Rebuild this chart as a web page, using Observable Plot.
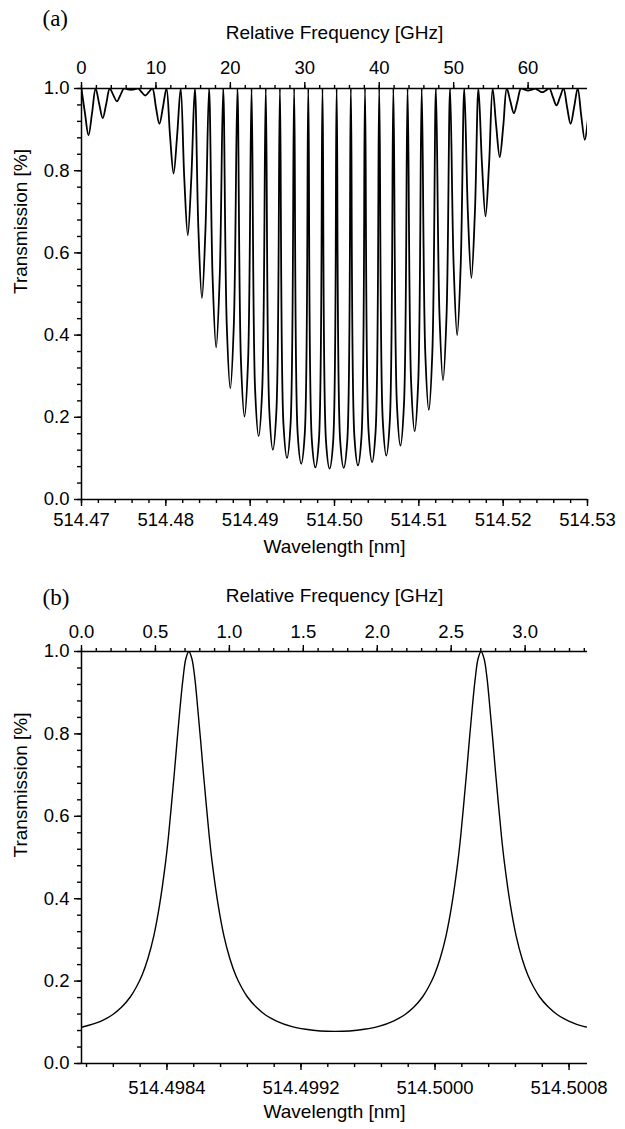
<!DOCTYPE html>
<html>
<head>
<meta charset="utf-8">
<script src="https://cdn.jsdelivr.net/npm/d3@7"></script>
<script src="https://cdn.jsdelivr.net/npm/@observablehq/plot@0.6"></script>
<style>
  html, body { margin: 0; padding: 0; background: #fff; }
  #chart { width: 625px; }
  #chart svg { display: block; }
</style>
</head>
<body>
<div id="chart"></div>
<script>
// Frequency detuning per nm of wavelength near 514.5 nm
const GHZ_PER_NM = 1133;

// ---------- Panel (a): wide scan, 514.47 – 514.53 nm ----------
const lambdaStartA = 514.47;
const lambdaEndA = 514.53;
// transmission dips (relative frequency, GHz) and their depth
const fringeDipGHz = [
  0.94, 2.85, 4.75, 6.66, 8.56, 10.47, 12.37, 14.28, 16.18, 18.09,
  19.99, 21.90, 23.80, 25.71, 27.61, 29.52, 31.42, 33.33, 35.23, 37.14,
  39.04, 40.95, 42.85, 44.76, 46.66, 48.57, 50.47, 52.38, 54.28, 56.19,
  58.09, 60.00, 61.90, 63.81, 65.71, 67.62
];
const fringeDipT = [
  0.886, 0.928, 0.969, 0.997, 0.983, 0.914, 0.793, 0.643, 0.490, 0.370,
  0.271, 0.202, 0.154, 0.121, 0.101, 0.087, 0.078, 0.075, 0.077, 0.083,
  0.091, 0.107, 0.131, 0.166, 0.218, 0.290, 0.400, 0.539, 0.689, 0.833,
  0.940, 0.995, 0.991, 0.959, 0.914, 0.875
];
// transmission a quarter period either side of each dip
const fringeShoulderT = [
  0.940, 0.963, 0.984, 0.998, 0.991, 0.955, 0.885, 0.783, 0.658, 0.540,
  0.426, 0.336, 0.267, 0.216, 0.183, 0.160, 0.145, 0.140, 0.143, 0.153,
  0.167, 0.193, 0.232, 0.285, 0.358, 0.450, 0.571, 0.700, 0.816, 0.909,
  0.969, 0.997, 0.995, 0.979, 0.955, 0.933
];
// offsets (GHz) of peak, shoulder, dip, shoulder within one fringe
const fringeOffsetsGHz = [-0.953, -0.476, 0, 0.476];
const fringeHalfPeriodGHz = 0.953;

// ---------- Panel (b): single free spectral range ----------
const lambdaStartB = 514.49789;
const lambdaEndB = 514.50091;
const airyGHz = [
  0.000, 0.133, 0.212, 0.272, 0.331, 0.370, 0.410, 0.449, 0.489, 0.528,
  0.568, 0.588, 0.607, 0.627, 0.647, 0.667, 0.687, 0.706, 0.726, 0.746,
  0.766, 0.785, 0.805, 0.825, 0.845, 0.864, 0.884, 0.924, 0.963, 1.003,
  1.042, 1.082, 1.121, 1.181, 1.240, 1.319, 1.418, 1.516, 1.615, 1.714,
  1.813, 1.912, 2.010, 2.109, 2.188, 2.248, 2.307, 2.346, 2.386, 2.425,
  2.465, 2.504, 2.544, 2.564, 2.583, 2.603, 2.623, 2.643, 2.663, 2.682,
  2.702, 2.722, 2.742, 2.761, 2.781, 2.801, 2.821, 2.840, 2.860, 2.900,
  2.939, 2.979, 3.018, 3.058, 3.097, 3.157, 3.216, 3.295, 3.394, 3.425
];
const airyT = [
  0.088, 0.103, 0.119, 0.137, 0.162, 0.185, 0.215, 0.255, 0.310, 0.385,
  0.487, 0.551, 0.623, 0.702, 0.786, 0.866, 0.936, 0.983, 1.000, 0.983,
  0.936, 0.866, 0.786, 0.702, 0.623, 0.551, 0.487, 0.385, 0.310, 0.255,
  0.215, 0.185, 0.162, 0.137, 0.119, 0.103, 0.090, 0.083, 0.079, 0.078,
  0.079, 0.083, 0.090, 0.103, 0.119, 0.137, 0.162, 0.185, 0.215, 0.255,
  0.310, 0.385, 0.487, 0.551, 0.623, 0.702, 0.786, 0.866, 0.936, 0.983,
  1.000, 0.983, 0.936, 0.866, 0.786, 0.702, 0.623, 0.551, 0.487, 0.385,
  0.310, 0.255, 0.215, 0.185, 0.162, 0.137, 0.119, 0.103, 0.090, 0.088
];

// ---------- tick values ----------
const transMajor = [0, 0.2, 0.4, 0.6, 0.8, 1.0];
const freqMajorA = [0, 10, 20, 30, 40, 50, 60];
const lambdaMajorA = [514.47, 514.48, 514.49, 514.50, 514.51, 514.52, 514.53];
const freqMajorB = [0, 0.5, 1.0, 1.5, 2.0, 2.5, 3.0];
const lambdaMajorB = [514.4984, 514.4992, 514.5000, 514.5008];

const SANS = "'Liberation Sans', Arial, Helvetica, sans-serif";
const SERIF = "'Liberation Serif', 'Times New Roman', serif";

// build the fringe trace for panel (a)
const traceA = [];
fringeDipGHz.forEach((f0, i) => {
  const values = [1, fringeShoulderT[i], fringeDipT[i], fringeShoulderT[i]];
  fringeOffsetsGHz.forEach((off, j) => traceA.push({f: f0 + off, t: values[j]}));
});
traceA.push({f: fringeDipGHz[fringeDipGHz.length - 1] + fringeHalfPeriodGHz, t: 1});

const traceB = airyGHz.map((f, i) => ({f, t: airyT[i]}));

function panel(opts) {
  const {tag, tagDy, lambdaStart, lambdaEnd, trace, strokeWidth,
         freqMajor, freqMinorStep, freqFormat,
         lambdaMajor, lambdaMinor, lambdaFormat,
         marginTop, topPad, bottomPad, bottomTitleDy} = opts;
  const xMax = (lambdaEnd - lambdaStart) * GHZ_PER_NM;
  const toGHz = (l) => (l - lambdaStart) * GHZ_PER_NM;
  const freqMinor = d3.range(0, xMax + 1e-9, freqMinorStep);
  const transMinor = d3.range(0, 1.0001, 0.04);
  const tickStyle = {stroke: "#000", strokeWidth: 1.4};
  const tickFont = 18.5;
  const titleFont = 19;

  return Plot.plot({
    width: 625,
    height: 564,
    marginTop,
    marginBottom: 65,
    marginLeft: 81,
    marginRight: 38,
    x: {domain: [0, xMax]},
    y: {domain: [0, 1]},
    style: {fontFamily: SANS, fontSize: "18px", color: "#000", background: "#fff", overflow: "visible"},
    marks: [
      // axis lines
      Plot.ruleY([0, 1], {stroke: "#000", strokeWidth: 1.5}),
      Plot.ruleX([0], {stroke: "#000", strokeWidth: 1.5}),
      // left axis
      Plot.axisY(transMinor, {anchor: "left", tickSize: 4, fill: "none", label: null, ...tickStyle}),
      Plot.axisY(transMajor, {anchor: "left", tickSize: 7, tickPadding: 5, tickFormat: d3.format(".1f"),
        fontSize: tickFont, label: null, ...tickStyle}),
      // top axis: relative frequency
      Plot.axisX(freqMinor, {anchor: "top", tickSize: 4, fill: "none", label: null, ...tickStyle}),
      Plot.axisX(freqMajor, {anchor: "top", tickSize: 7, tickPadding: topPad, tickFormat: freqFormat,
        fontSize: tickFont, label: null, ...tickStyle}),
      // bottom axis: wavelength
      Plot.axisX(lambdaMinor.map(toGHz), {anchor: "bottom", tickSize: 4, fill: "none", label: null, ...tickStyle}),
      Plot.axisX(lambdaMajor.map(toGHz), {anchor: "bottom", tickSize: 7, tickPadding: bottomPad,
        tickFormat: (g) => lambdaFormat(lambdaStart + g / GHZ_PER_NM), fontSize: tickFont, label: null, ...tickStyle}),
      // transmission curve
      Plot.line(trace, {x: "f", y: "t", curve: "catmull-rom", stroke: "#000", strokeWidth, clip: true}),
      // titles
      Plot.text([tag], {frameAnchor: "top-left", textAnchor: "start", lineAnchor: "middle",
        dx: -39, dy: tagDy, fontFamily: SERIF, fontSize: 23, fill: "#000"}),
      Plot.text(["Relative Frequency [GHz]"], {frameAnchor: "top", lineAnchor: "middle", dy: -56,
        fontSize: titleFont, fill: "#000"}),
      Plot.text(["Wavelength [nm]"], {frameAnchor: "bottom", lineAnchor: "middle", dy: bottomTitleDy,
        fontSize: titleFont, fill: "#000"}),
      Plot.text(["Transmission [%]"], {frameAnchor: "left", lineAnchor: "middle", dx: -61, rotate: -90,
        fontSize: titleFont, fill: "#000"})
    ]
  });
}

const chart = document.getElementById("chart");

chart.append(panel({
  tag: "(a)", tagDy: -70,
  lambdaStart: lambdaStartA, lambdaEnd: lambdaEndA,
  trace: traceA, strokeWidth: 1.8,
  freqMajor: freqMajorA, freqMinorStep: 2, freqFormat: d3.format("d"),
  lambdaMajor: lambdaMajorA,
  lambdaMinor: d3.range(0, 31).map(i => lambdaStartA + i * 0.002),
  lambdaFormat: d3.format(".2f"),
  marginTop: 88, topPad: 8, bottomPad: 6, bottomTitleDy: 47
}));

chart.append(panel({
  tag: "(b)", tagDy: -54,
  lambdaStart: lambdaStartB, lambdaEnd: lambdaEndB,
  trace: traceB, strokeWidth: 1.4,
  freqMajor: freqMajorB, freqMinorStep: 0.1, freqFormat: d3.format(".1f"),
  lambdaMajor: lambdaMajorB,
  lambdaMinor: d3.range(0, 19).map(i => 514.49792 + i * 0.00016),
  lambdaFormat: d3.format(".4f"),
  marginTop: 87, topPad: 7, bottomPad: 10, bottomTitleDy: 48
}));
</script>
</body>
</html>
